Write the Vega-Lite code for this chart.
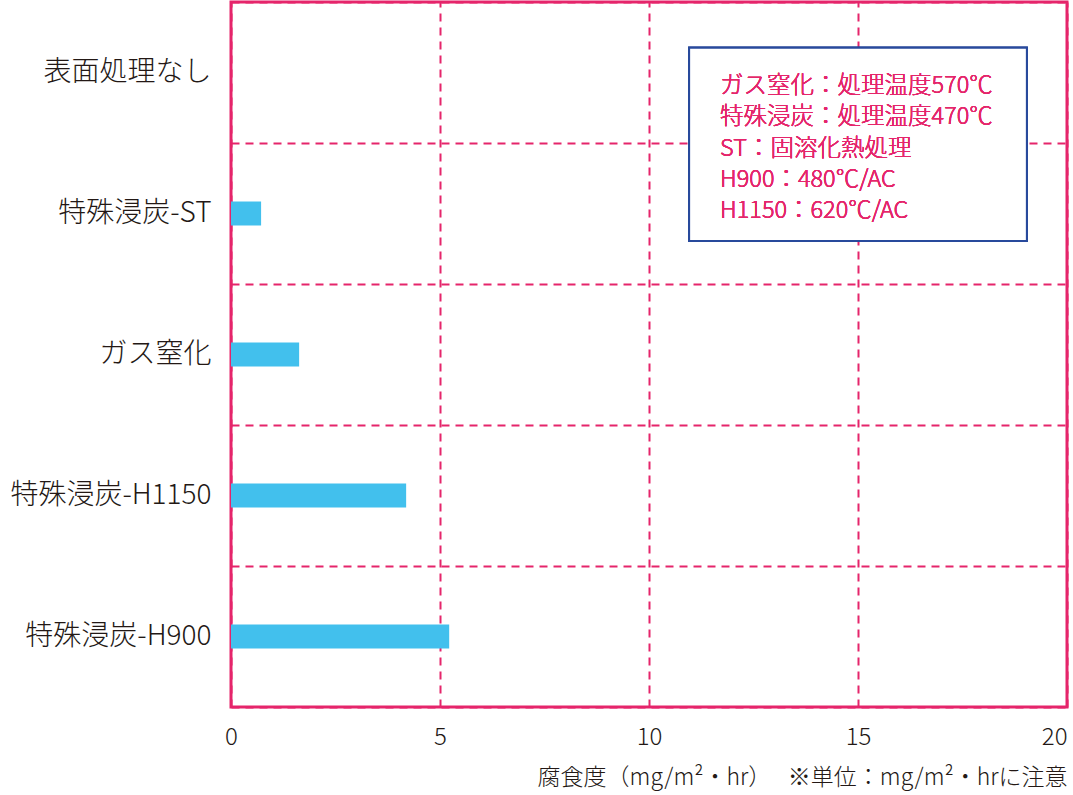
{
  "$schema": "https://vega.github.io/schema/vega-lite/v6.json",
  "width": 836,
  "height": 705,
  "autosize": "none",
  "padding": {"left": 231, "top": 2, "right": 6, "bottom": 88},
  "background": "white",
  "config": {
    "font": "Noto Sans CJK JP",
    "view": {"stroke": "#e5256b", "strokeWidth": 3}
  },
  "data": {
    "values": [
      {"treatment": "表面処理なし", "corrosion": 0},
      {"treatment": "特殊浸炭-ST", "corrosion": 0.72},
      {"treatment": "ガス窒化", "corrosion": 1.63},
      {"treatment": "特殊浸炭-H1150", "corrosion": 4.19},
      {"treatment": "特殊浸炭-H900", "corrosion": 5.22}
    ]
  },
  "encoding": {
    "x": {
      "field": "corrosion",
      "type": "quantitative",
      "scale": {"domain": [0, 20], "nice": false},
      "axis": {
        "values": [0, 5, 10, 15, 20],
        "title": "腐食度（mg/m²・hr）　 ※単位：mg/m²・hrに注意",
        "titleAnchor": "end",
        "titleFont": "Noto Sans CJK JP",
        "titleFontSize": 23,
        "titleFontWeight": 300,
        "titleColor": "#231815",
        "titlePadding": 17,
        "labelFontSize": 24,
        "labelFontWeight": 300,
        "labelColor": "#231815",
        "labelPadding": 18,
        "labelAlign": {"expr": "datum.value == 20 ? 'right' : 'center'"},
        "ticks": false,
        "domain": false,
        "grid": true,
        "gridColor": "#e5256b",
        "gridWidth": 2,
        "gridDash": [8, 6]
      }
    }
  },
  "layer": [
    {
      "mark": {"type": "bar", "color": "#42c0ed", "size": 24},
      "encoding": {
        "y": {
          "field": "treatment",
          "type": "nominal",
          "sort": null,
          "scale": {"paddingInner": 0, "paddingOuter": 0},
          "axis": {
            "title": null,
            "labelFontSize": 28,
            "labelFontWeight": 300,
            "labelColor": "#231815",
            "labelPadding": 20,
            "labelLimit": 300,
            "ticks": false,
            "domain": false,
            "grid": true,
            "tickBand": "extent",
            "gridColor": "#e5256b",
            "gridWidth": 2,
            "gridDash": [8, 6]
          }
        }
      }
    },
    {
      "mark": {"type": "rect", "fill": "white", "stroke": "#284a9c", "strokeWidth": 2},
      "encoding": {
        "x": {"datum": 10.96, "type": "quantitative"},
        "x2": {"datum": 19.04},
        "y": {
          "datum": 6.5,
          "type": "quantitative",
          "scale": {"domain": [0, 100], "reverse": true, "nice": false},
          "axis": null
        },
        "y2": {"datum": 33.9}
      }
    },
    {
      "mark": {
        "type": "text",
        "align": "left",
        "baseline": "top",
        "fontSize": 23.5,
        "fontWeight": 300,
        "lineHeight": 31.3,
        "color": "#e5256b",
        "text": [
          "ガス窒化：処理温度570℃",
          "特殊浸炭：処理温度470℃",
          "ST：固溶化熱処理",
          "H900：480℃/AC",
          "H1150：620℃/AC"
        ]
      },
      "encoding": {
        "x": {"datum": 11.7, "type": "quantitative"},
        "y": {
          "datum": 10.2,
          "type": "quantitative",
          "scale": {"domain": [0, 100], "reverse": true, "nice": false},
          "axis": null
        }
      }
    }
  ],
  "resolve": {"scale": {"y": "independent"}, "axis": {"y": "independent"}}
}
